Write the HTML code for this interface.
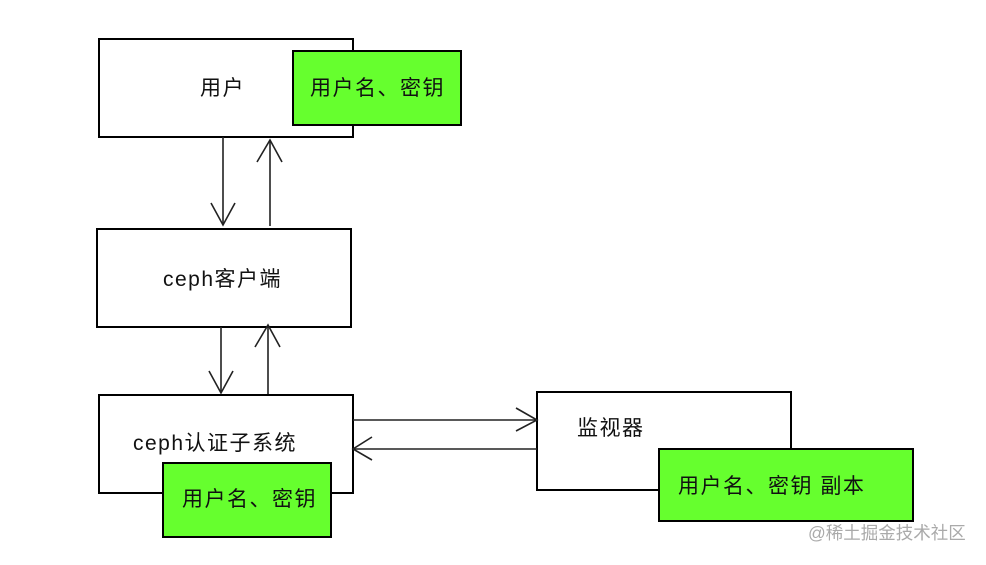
<!DOCTYPE html>
<html><head><meta charset="utf-8"><style>
html,body{margin:0;padding:0;background:#fff;}
svg text{font-family:"Liberation Sans","Noto Sans CJK SC",sans-serif;}
</style></head><body>
<svg width="986" height="560" viewBox="0 0 986 560" xmlns="http://www.w3.org/2000/svg">
<g fill="none" stroke="#000" stroke-width="2">
<rect x="99" y="39" width="254" height="98" fill="#fff"/>
<rect x="293" y="51" width="168" height="74" fill="#66ff2e"/>
<rect x="97" y="229" width="254" height="98" fill="#fff"/>
<rect x="99" y="395" width="254" height="98" fill="#fff"/>
<rect x="163" y="463" width="168" height="74" fill="#66ff2e"/>
<rect x="537" y="392" width="254" height="98" fill="#fff"/>
<rect x="659" y="449" width="254" height="72" fill="#66ff2e"/>
</g>
<g fill="none" stroke="#222" stroke-width="1.6">
<line x1="223" y1="137" x2="223" y2="225"/><polyline points="211,203 223,225 235,203"/>
<line x1="270" y1="226" x2="270" y2="140"/><polyline points="257,162 270,140 282,162"/>
<line x1="221" y1="327" x2="221" y2="393"/><polyline points="209,371 221,393 233,371"/>
<line x1="268" y1="394" x2="268" y2="325"/><polyline points="255,347 268,325 280,347"/>
<line x1="353" y1="420" x2="537" y2="420"/><polyline points="516,408 537,420 516,431"/>
<line x1="537" y1="449" x2="353" y2="449"/><polyline points="372,437 353,449 372,460"/>
</g>
<g font-size="21" fill="#111" letter-spacing="1.5">
<text x="200" y="95">用户</text>
<text x="310" y="95">用户名、密钥</text>
<text x="163" y="286">ceph客户端</text>
<text x="133" y="450">ceph认证子系统</text>
<text x="182" y="506">用户名、密钥</text>
<text x="577" y="435">监视器</text>
<text x="678" y="493">用户名、密钥 副本</text>
</g>
<text x="808" y="539" font-size="17.5" fill="#aaa">@稀土掘金技术社区</text>
</svg>
</body></html>
